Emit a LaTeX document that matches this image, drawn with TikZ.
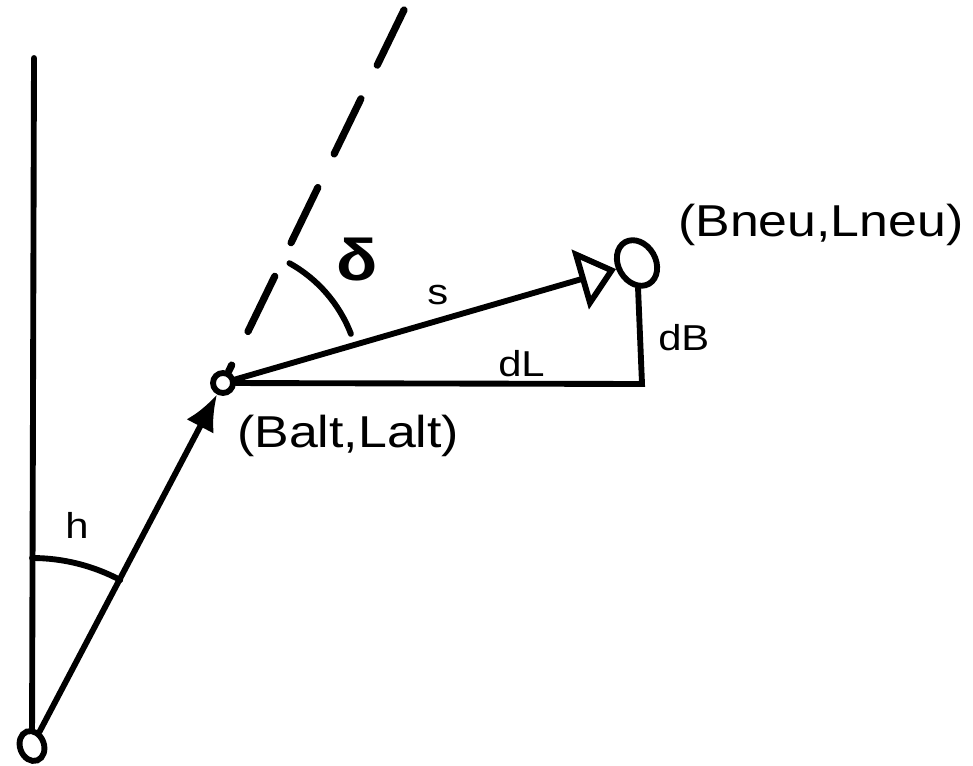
\documentclass[tikz,border=0pt]{standalone}
\usepackage{fontspec}
\setmainfont{Liberation Sans}[FakeStretch=1.16]
\usetikzlibrary{arrows.meta,shapes.geometric}
\tikzset{
  ray/.style={line width=4.4pt,line cap=round},
  dot/.style={circle,draw,line width=4.4pt,fill=white,inner sep=0pt,minimum size=15pt},
  oval/.style={ellipse,draw,line width=4.4pt,fill=white,inner sep=0pt},
  lbl/.style={anchor=base west,inner sep=0pt,font=\fontsize{27}{30}\selectfont},
  big/.style={lbl,font=\fontsize{33.5}{36}\selectfont}
}
\begin{document}
\begin{tikzpicture}[x=0.75pt,y=0.75pt]
  \useasboundingbox (0,0) rectangle (973,765);
  \node[oval,minimum width=18pt,minimum height=23pt,rotate=20] (start) at (32,19) {};
  \node[dot] (balt) at (223,382) {};
  \node[oval,minimum width=28pt,minimum height=36pt,rotate=30] (bneu) at (637,502) {};
  \coordinate (axis) at (34,707);
  \coordinate (dtop) at (404,755);
  \coordinate (corner) at (642,381);
  \draw[ray] (axis) -- (start);
  \draw[ray,-{Latex[length=27pt,width=23pt]}] (start) -- (balt);
  \draw[ray,line width=5.4pt,dash pattern=on 46pt off 28pt] (dtop) -- (balt);
  \draw[ray,-{Triangle[open,length=28pt,width=46pt]}] (balt) -- (bneu);
  \draw[ray,line join=miter] (balt) -- (corner) -- (bneu);
  % angles
  \draw[ray] ([shift={(90:188)}]start.center) arc[start angle=90,end angle=62,radius=188];
  \draw[ray] ([shift={(61:137)}]balt.center) arc[start angle=61,end angle=21,radius=137];
  \node[big] (lbneu) at (678,528) {(Bneu,Lneu)};
  \node[lbl] (ldb) at (658,415) {dB};
  \node[lbl] (ldl) at (498,389) {dL};
  \node[lbl] (ls) at (427,460) {s};
  \node[big] (lbalt) at (237,318) {(Balt,Lalt)};
  \node[lbl] (lh) at (65,227) {h};
  \node[inner sep=0pt,font=\bfseries\fontsize{44}{48}\selectfont] (ldelta) at (357,505) {δ};
\end{tikzpicture}
\end{document}
